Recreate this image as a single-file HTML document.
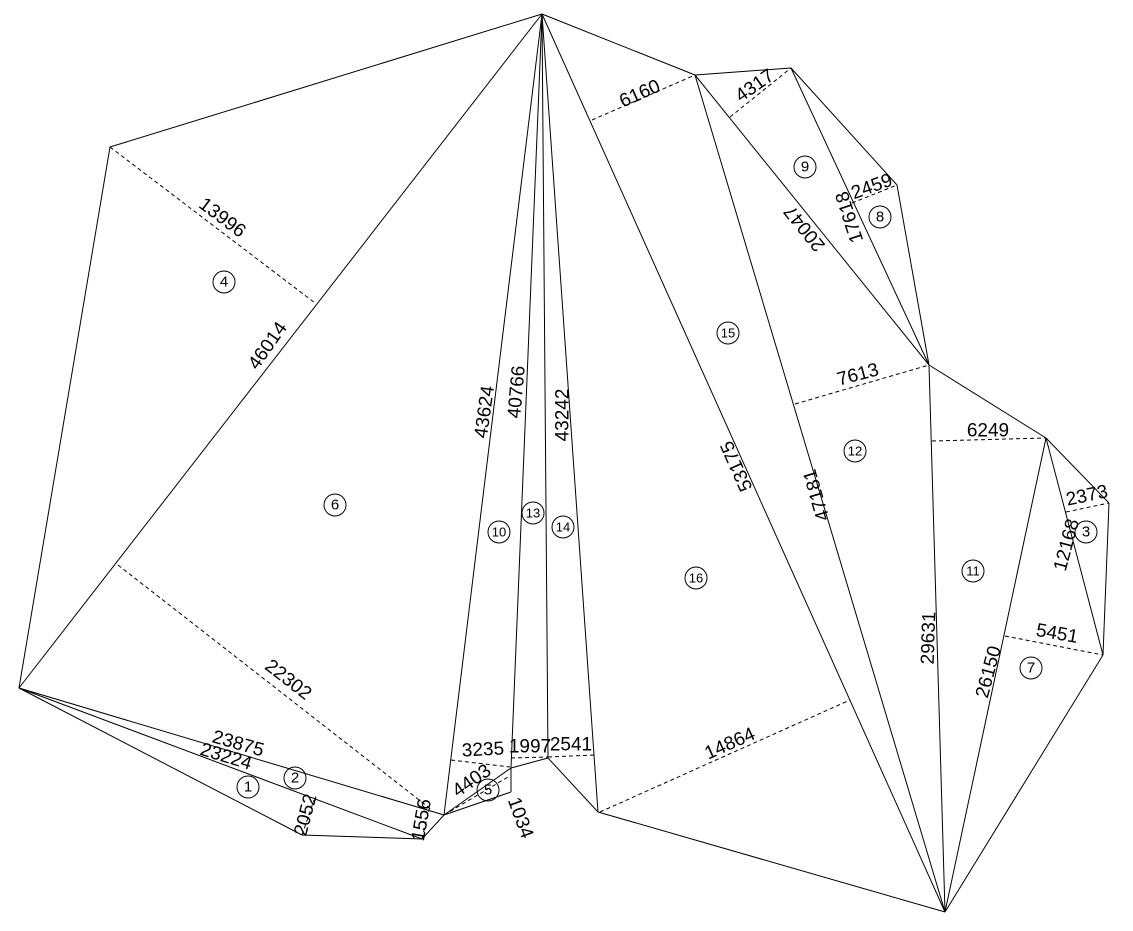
<!DOCTYPE html>
<html><head><meta charset="utf-8"><style>
html,body{margin:0;padding:0;background:#fff;}
svg{display:block;}
text{font-family:"Liberation Sans Narrow","Liberation Sans",sans-serif;font-size:19px;fill:#000;text-anchor:middle;dominant-baseline:central;}
.c text{font-family:"Liberation Sans",sans-serif;font-size:15px;}
</style></head><body>
<svg width="1133" height="931" viewBox="0 0 1133 931" xmlns="http://www.w3.org/2000/svg">
<g stroke="#000" stroke-width="1" fill="none">
<polyline points="19,688 110,147 542,14"/>
<line x1="19" y1="688" x2="542" y2="14"/>
<line x1="19" y1="688" x2="302" y2="835"/>
<line x1="19" y1="688" x2="422" y2="839"/>
<line x1="19" y1="688" x2="444" y2="815"/>
<polyline points="302,835 422,839 444,815"/>
<line x1="542" y1="14" x2="444" y2="815"/>
<line x1="542" y1="14" x2="511" y2="768"/>
<line x1="542" y1="14" x2="548" y2="758"/>
<line x1="542" y1="14" x2="598" y2="812"/>
<line x1="444" y1="815" x2="511" y2="768"/>
<line x1="444" y1="815" x2="511" y2="792"/>
<line x1="511" y1="768" x2="511" y2="792"/>
<line x1="511" y1="768" x2="548" y2="758"/>
<line x1="548" y1="758" x2="598" y2="812"/>
<line x1="598" y1="812" x2="945" y2="912"/>
<line x1="542" y1="14" x2="695" y2="75"/>
<line x1="542" y1="14" x2="945" y2="912"/>
<line x1="695" y1="75" x2="945" y2="912"/>
<line x1="695" y1="75" x2="791" y2="68"/>
<line x1="695" y1="75" x2="929" y2="365"/>
<line x1="791" y1="68" x2="929" y2="365"/>
<line x1="791" y1="68" x2="897" y2="185"/>
<line x1="897" y1="185" x2="929" y2="365"/>
<line x1="929" y1="365" x2="945" y2="912"/>
<line x1="929" y1="365" x2="1046" y2="438"/>
<line x1="1046" y1="438" x2="945" y2="912"/>
<line x1="1046" y1="438" x2="1109" y2="503"/>
<line x1="1046" y1="438" x2="1103" y2="655"/>
<line x1="1109" y1="503" x2="1103" y2="655"/>
<line x1="1103" y1="655" x2="945" y2="912"/>
</g>
<g stroke="#000" stroke-width="1" fill="none" stroke-dasharray="4,3">
<line x1="110" y1="147" x2="315" y2="303"/>
<line x1="118" y1="565" x2="432" y2="810"/>
<line x1="592" y1="120" x2="695" y2="75"/>
<line x1="730" y1="117" x2="791" y2="68"/>
<line x1="852" y1="203" x2="897" y2="185"/>
<line x1="795" y1="404" x2="929" y2="365"/>
<line x1="932" y1="441" x2="1046" y2="438"/>
<line x1="1066" y1="512" x2="1109" y2="503"/>
<line x1="1005" y1="636" x2="1103" y2="655"/>
<line x1="600" y1="812" x2="850" y2="700"/>
<line x1="451" y1="760" x2="510" y2="767"/>
<line x1="511" y1="758" x2="548" y2="757"/>
<line x1="548" y1="757" x2="595" y2="755"/>
<line x1="444" y1="815" x2="508" y2="777"/>
<line x1="422" y1="839" x2="430" y2="806"/>
<line x1="302" y1="835" x2="314" y2="800"/>
</g>
<text transform="translate(222,218) rotate(37)">13996</text>
<text transform="translate(268,346) rotate(-55)">46014</text>
<text transform="translate(485,412) rotate(-82)">43624</text>
<text transform="translate(517,392) rotate(-85)">40766</text>
<text transform="translate(563,415) rotate(-90)">43242</text>
<text transform="translate(737,466) rotate(-114)">53175</text>
<text transform="translate(817,495) rotate(-106)">47181</text>
<text transform="translate(929,638) rotate(-88)">29631</text>
<text transform="translate(989,672) rotate(-75)">26150</text>
<text transform="translate(1067,545) rotate(-75)">12168</text>
<text transform="translate(805,228) rotate(231)">20047</text>
<text transform="translate(850,217) rotate(-108)">17618</text>
<text transform="translate(755,86) rotate(-35)">4317</text>
<text transform="translate(640,94) rotate(-24)">6160</text>
<text transform="translate(872,187) rotate(-20)">2459</text>
<text transform="translate(858,375) rotate(-15)">7613</text>
<text transform="translate(988,431)">6249</text>
<text transform="translate(1087,496) rotate(-12)">2373</text>
<text transform="translate(1057,634) rotate(10)">5451</text>
<text transform="translate(730,744) rotate(-24)">14864</text>
<text transform="translate(288,680) rotate(38)">22302</text>
<text transform="translate(238,744) rotate(16)">23875</text>
<text transform="translate(226,757) rotate(17)">23224</text>
<text transform="translate(306,815) rotate(-75)">2052</text>
<text transform="translate(422,820) rotate(-80)">1556</text>
<text transform="translate(483,750) rotate(-3)">3235</text>
<text transform="translate(530,747)">1997</text>
<text transform="translate(571,745)">2541</text>
<text transform="translate(472,781) rotate(-35)">4403</text>
<text transform="translate(520,818) rotate(70)">1034</text>
<g class="c" stroke="#000" fill="none">
<circle cx="248" cy="787" r="11"/><circle cx="295" cy="778" r="11"/>
<circle cx="1086" cy="532" r="11"/><circle cx="224" cy="282" r="11"/>
<circle cx="488" cy="790" r="11"/><circle cx="335" cy="505" r="11"/>
<circle cx="1031" cy="668" r="11"/><circle cx="880" cy="217" r="11"/>
<circle cx="805" cy="167" r="11"/><circle cx="499" cy="532" r="11"/>
<circle cx="973" cy="571" r="11"/><circle cx="855" cy="451" r="11"/>
<circle cx="533" cy="513" r="11"/><circle cx="563" cy="527" r="11"/>
<circle cx="728" cy="333" r="11"/><circle cx="696" cy="578" r="11"/>
</g>
<g class="c">
<text x="248" y="787">1</text><text x="295" y="778">2</text>
<text x="1086" y="532">3</text><text x="224" y="282">4</text>
<text x="488" y="790">5</text><text x="335" y="505">6</text>
<text x="1031" y="668">7</text><text x="880" y="217">8</text>
<text x="805" y="167">9</text><text x="499" y="532" style="font-size:13px">10</text>
<text x="973" y="571" style="font-size:13px">11</text><text x="855" y="451" style="font-size:13px">12</text>
<text x="533" y="513" style="font-size:13px">13</text><text x="563" y="527" style="font-size:13px">14</text>
<text x="728" y="333" style="font-size:13px">15</text><text x="696" y="578" style="font-size:13px">16</text>
</g>
</svg>
</body></html>
